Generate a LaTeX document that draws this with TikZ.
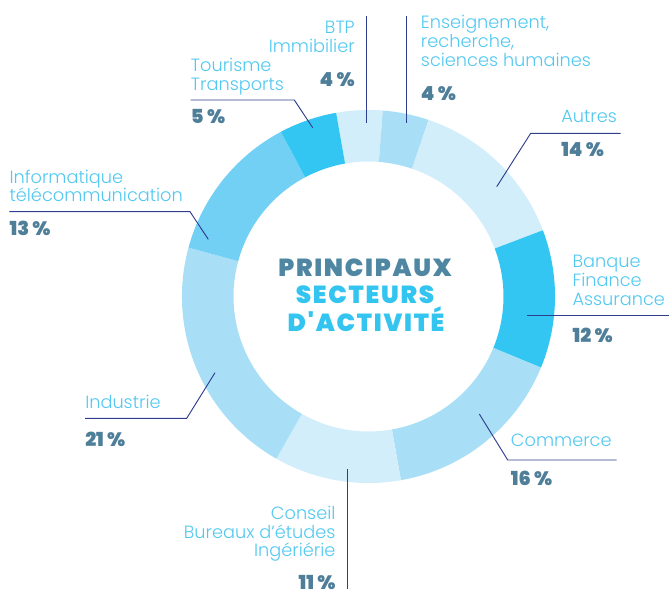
\documentclass[tikz,border=0pt]{standalone}
\usepackage{fontspec}
\newfontfamily\lightf{Poppins Light}
\newfontfamily\blackf{Poppins Black}
\newfontfamily\titlef[LetterSpace=7]{Poppins Black}
\definecolor{segA}{HTML}{D1EEFA}
\definecolor{segB}{HTML}{A8DFF7}
\definecolor{segC}{HTML}{72D0F5}
\definecolor{segD}{HTML}{33C6F2}
\definecolor{labelc}{HTML}{52C8F0}
\definecolor{pctc}{HTML}{4F7E99}
\definecolor{titlec}{HTML}{4F87A3}
\definecolor{title2}{HTML}{33C5F0}
\definecolor{leaderc}{HTML}{2F3D8F}
\begin{document}
\begin{tikzpicture}[x=0.75pt,y=-0.75pt,
  lbl/.style={inner sep=0pt, text=labelc, font=\lightf\fontsize{13.3}{13.9}\selectfont},
  pct/.style={inner sep=0pt, text=pctc, font=\blackf\fontsize{14.5}{14}\selectfont},
  ttl/.style={inner sep=0pt, anchor=base, font=\titlef\fontsize{18.5}{18}\selectfont},
  leader/.style={draw=leaderc, line width=0.7pt}]
\useasboundingbox (0,0) rectangle (671,589);
% ring
\begin{scope}[shift={(368.5,296.5)}]
\foreach \a/\b/\c in {100/85.6/segA, 85.6/71.2/segB, 71.2/20.8/segA, 20.8/-22.4/segD,
  -22.4/-80/segB, -80/-119.6/segA, -119.6/-195.2/segB, 164.8/118/segC, 118/100/segD} {
  \fill[\c] (\a:139.9pt) arc[start angle=\a, end angle=\b, radius=139.9pt]
    -- (\b:101.25pt) arc[start angle=\b, end angle=\a, radius=101.25pt] -- cycle;
}
\end{scope}
% title
\node[ttl, text=titlec] (t1) at (365,276) {PRINCIPAUX};
\node[ttl, text=title2] (t2) at (365,303) {SECTEURS};
\node[ttl, text=title2] (t3) at (366,331) {D'ACTIVITÉ};
% leader end points
\coordinate (btpA) at (366.7,16);   \coordinate (btpB) at (366.7,123);
\coordinate (ensA) at (406.5,16);   \coordinate (ensB) at (406.5,123);
\coordinate (touA) at (190.7,100);  \coordinate (touK) at (294.3,100);  \coordinate (touB) at (312.7,127.7);
\coordinate (autA) at (620.7,133.3);\coordinate (autK) at (530.7,133.3);\coordinate (autB) at (496.7,186.7);
\coordinate (banA) at (669.3,315.3);\coordinate (banB) at (526.7,315.3);
\coordinate (comA) at (616.7,460);  \coordinate (comK) at (507.7,460);  \coordinate (comB) at (479.3,414);
\coordinate (conA) at (347.7,589);  \coordinate (conB) at (347.7,469.3);
\coordinate (indA) at (85,418.3);   \coordinate (indK) at (186.7,418.3);\coordinate (indB) at (215,372.7);
\coordinate (infA) at (9.3,211.7);  \coordinate (infK) at (190,211.7);  \coordinate (infB) at (208.3,239.3);
\draw[leader] (btpA) -- (btpB);
\draw[leader] (ensA) -- (ensB);
\draw[leader] (touA) -- (touK) -- (touB);
\draw[leader] (autA) -- (autK) -- (autB);
\draw[leader] (banA) -- (banB);
\draw[leader] (comA) -- (comK) -- (comB);
\draw[leader] (conA) -- (conB);
\draw[leader] (indA) -- (indK) -- (indB);
\draw[leader] (infA) -- (infK) -- (infB);
% labels (base anchor of a multi-line node = baseline of its last line)
\node[lbl, anchor=base east, align=right] (btp) at (355,52) {BTP\\Immibilier};
\node[pct, anchor=base east] (btpp) at (355,86) {4 \%};
\node[lbl, anchor=base west, align=left] (ens) at (420.7,66) {Enseignement,\\recherche,\\sciences humaines};
\node[pct, anchor=base west] (ensp) at (420.7,100) {4 \%};
\node[lbl, anchor=base west, align=left] (tou) at (190.7,90) {Tourisme\\Transports};
\node[pct, anchor=base west] (toup) at (190.7,123) {5 \%};
\node[lbl, anchor=base west] (aut) at (561,122.7) {Autres};
\node[pct, anchor=base west] (autp) at (561,156) {14 \%};
\node[lbl, anchor=base west, align=left] (ban) at (572.3,305) {Banque\\Finance\\Assurance};
\node[pct, anchor=base west] (banp) at (572.3,342.7) {12 \%};
\node[lbl, anchor=base west] (com) at (510.7,446.7) {Commerce};
\node[pct, anchor=base west] (comp) at (510.7,485) {16 \%};
\node[lbl, anchor=base east, align=right] (con) at (335.7,556.7) {Conseil\\Bureaux d’études\\Ingériérie};
\node[pct, anchor=base east] (conp) at (335.7,589.3) {11 \%};
\node[lbl, anchor=base west] (ind) at (85,408.3) {Industrie};
\node[pct, anchor=base west] (indp) at (85,446) {21 \%};
\node[lbl, anchor=base west, align=left] (inf) at (9.3,201.7) {Informatique\\télécommunication};
\node[pct, anchor=base west] (infp) at (9.3,235) {13 \%};
\end{tikzpicture}
\end{document}
